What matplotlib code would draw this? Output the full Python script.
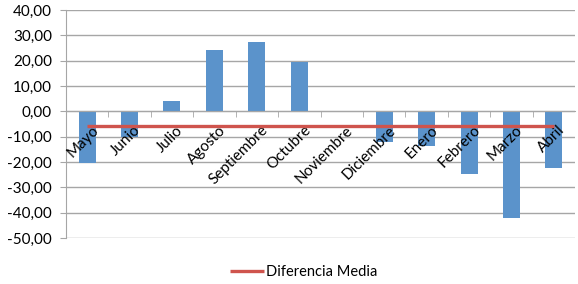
import numpy as np
import matplotlib.pyplot as plt
import matplotlib.transforms as mtransforms
from matplotlib.ticker import FixedLocator, FuncFormatter

plt.rcParams['font.family'] = ['Lato', 'DejaVu Sans']

# monthly differences
meses = ['Mayo', 'Junio', 'Julio', 'Agosto', 'Septiembre', 'Octubre', 'Noviembre',
         'Diciembre', 'Enero', 'Febrero', 'Marzo', 'Abril']
diferencia = [-20.5, -10.3, 4.1, 24.2, 27.3, 19.3, 0.3, -12.0, -13.8, -24.8, -42.1, -22.3]
media = [-5.9] * len(meses)

fig = plt.figure(figsize=(5.78, 2.84), dpi=100)
ax = fig.add_axes([0.114, 0.162, 0.881, 0.803])

x = np.arange(len(meses))
ax.bar(x, diferencia, width=0.4, color='#5b93cb', zorder=2)
linea, = ax.plot(x, media, color='#cf544d', lw=2.4, solid_capstyle='butt', zorder=4,
                 label='Diferencia Media')

ax.set_xlim(-0.5, len(meses) - 0.5)
ax.set_ylim(-50, 40)
ax.set_yticks(np.arange(-50, 41, 10))
ax.yaxis.set_major_formatter(FuncFormatter(lambda v, p: f'{v:.2f}'.replace('.', ',')))
ax.grid(axis='y', color='#a6a6a6', lw=1)

# category axis sits on zero, ticks between categories
ax.spines['bottom'].set_position(('data', 0))
ax.spines['bottom'].set_color('#a6a6a6')
ax.spines['left'].set_color('#a6a6a6')
ax.spines['top'].set_visible(False)
ax.spines['right'].set_visible(False)
ax.set_xticks(x)
ax.set_xticklabels(meses, rotation=45, ha='right', rotation_mode='anchor')
ax.xaxis.set_minor_locator(FixedLocator(np.arange(0.5, len(meses) - 0.5, 1)))
ax.tick_params(axis='x', which='major', length=0, pad=8.5, labelsize=11)
ax.tick_params(axis='x', which='minor', length=4, color='#a6a6a6', direction='out')
ax.tick_params(axis='y', length=4.5, color='#a6a6a6', labelsize=11, pad=5.5)

# nudge month labels a little to the right of the category centre
shift = mtransforms.ScaledTranslation(3 / 72, 0, fig.dpi_scale_trans)
for lab in ax.get_xticklabels():
    lab.set_transform(lab.get_transform() + shift)

# grid under the bars, month labels over them
ax.yaxis.set_zorder(1)
ax.xaxis.set_zorder(3)

fig.legend(handles=[linea], loc='center', bbox_to_anchor=(0.526, 0.042), frameon=False,
           fontsize=10.5, handlelength=2.3, handletextpad=0.15)

fig.savefig('out.png', dpi=100)
